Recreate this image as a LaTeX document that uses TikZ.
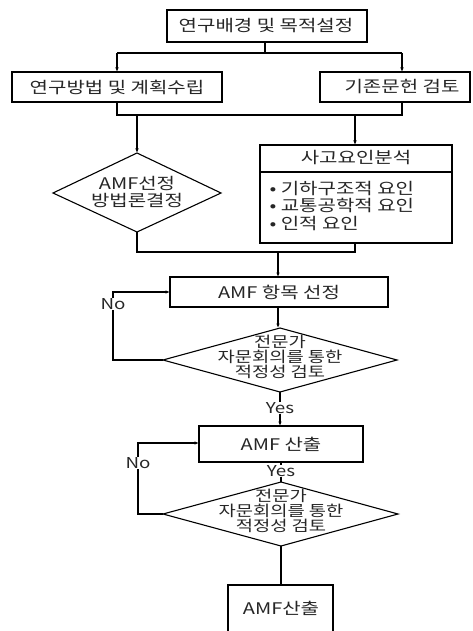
\documentclass[tikz,border=0pt]{standalone}
\usepackage{fontspec}
\setmainfont{Noto Sans CJK KR}[FakeStretch=1.25]
\usetikzlibrary{arrows.meta,shapes.geometric}
\begin{document}
\begin{tikzpicture}[x=1pt,y=-1pt,
  every node/.style={font=\fontsize{16}{18}\selectfont, text=black!85},
  dtext/.style={align=center, font=\fontsize{15}{15}\selectfont},
  line/.style={draw=black, line width=1.1pt},
  arr/.style={line, -{Latex[length=4.5pt,width=3.5pt]}},
  lbl/.style={fill=white, inner sep=0.5pt, font=\fontsize{15}{16}\selectfont}]
\useasboundingbox (0,0) rectangle (472,631);
\begin{scope}
\clip (0,0) rectangle (472,631);
% boxes
\draw[line] (167,10) rectangle (367,42);
\node (top) at (266,26) {연구배경 및 목적설정};
\coordinate (topS) at (265,42);
\draw[line] (12,72) rectangle (222,102);
\node (left) at (117,87) {연구방법 및 계획수립};
\draw[line] (320,72) rectangle (470,102);
\node (right) at (402,87) {기존문헌 검토};
% diamond 1
\draw[line] (53,193) -- (137,153) -- (221,193) -- (137,232) -- cycle;
\node[align=center, font=\fontsize{16}{17}\selectfont] (d1) at (137,192) {AMF선정\\방법론결정};
% sub box
\draw[line] (260,145) rectangle (452,243);
\draw[line] (260,172) -- (452,172);
\node (sub) at (356,158) {사고요인분석};
\node[anchor=west, align=left, font=\fontsize{16}{17.5}\selectfont] (facts) at (266,206) {• 기하구조적 요인\\• 교통공학적 요인\\• 인적 요인};
% AMF 항목 선정
\draw[line] (170,277) rectangle (388,307);
\node (sel) at (279,292) {AMF 항목 선정};
% diamond 2
\draw[line] (163,360) -- (280,328) -- (397,360) -- (280,392) -- cycle;
\node[dtext] (d2) at (280,357) {전문가\\자문회의를 통한\\적정성 검토};
% AMF 산출
\draw[line] (199,426) rectangle (363,462);
\node (calc) at (281,444) {AMF 산출};
% diamond 3
\draw[line] (163,514) -- (281,482) -- (398,514) -- (281,546) -- cycle;
\node[dtext] (d3) at (281,511) {전문가\\자문회의를 통한\\적정성 검토};
% final box
\draw[line] (228,585) rectangle (333,660);
\node (fin) at (281,608) {AMF산출};

% connectors
\draw[line] (topS) -- (265,53);
\draw[line] (117,53) -- (402,53);
\draw[arr] (117,53) -- (117,72);
\draw[arr] (402,53) -- (402,72);
\draw[line] (117,102) -- (117,115) -- (402,115) -- (402,102);
\draw[arr] (137,115) -- (137,153);
\draw[arr] (355,115) -- (355,145);
\draw[line] (137,232) -- (137,252) -- (355,252) -- (355,243);
\draw[arr] (278,252) -- (278,277);
\draw[arr] (278,307) -- (278,328);
\draw[arr] (163,360) -- (113,360) -- (113,292) -- (170,292);
\node[lbl] (no1) at (113,304) {No};
\draw[arr] (280,392) -- (280,426);
\node[lbl] (yes1) at (280,408) {Yes};
\draw[line] (281,462) -- (281,482);
\node[lbl] (yes2) at (281,471) {Yes};
\draw[arr] (163,514) -- (138,514) -- (138,443) -- (199,443);
\node[lbl] (no2) at (138,463) {No};
\draw[line] (281,546) -- (281,585);
\end{scope}
\end{tikzpicture}
\end{document}
